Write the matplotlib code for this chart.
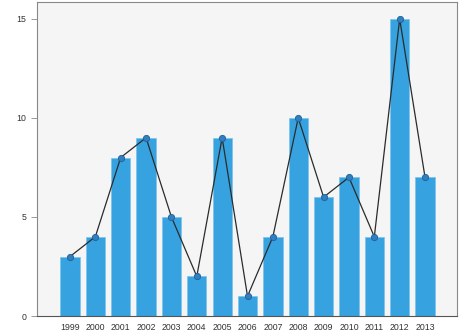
import numpy as np
import matplotlib.pyplot as plt

plt.rcParams['font.family'] = ['Liberation Sans', 'DejaVu Sans']

years = ['1999', '2000', '2001', '2002', '2003', '2004', '2005', '2006',
         '2007', '2008', '2009', '2010', '2011', '2012', '2013']
counts = [3, 4, 8, 9, 5, 2, 9, 1, 4, 10, 6, 7, 4, 15, 7]

fig = plt.figure(figsize=(4.61, 3.35), dpi=100)
ax = fig.add_axes([37/461, 19/335, 420/461, 314/335])
ax.set_facecolor('#f5f5f5')

x = np.arange(len(years))
ax.bar(x, counts, width=0.76, color='#36a3e0', edgecolor='#7cc3ea', linewidth=0.5, zorder=2)
ax.plot(x, counts, color='#2b2b2b', linewidth=0.9, zorder=3,
        marker='o', markersize=4.5, markerfacecolor='#2f7fc1',
        markeredgecolor='#245f95', markeredgewidth=0.6)

ax.set_xlim(-1.3, len(years) - 1 + 1.26)
ax.set_ylim(0, 15.85)
ax.set_xticks(x)
ax.set_xticklabels(years, fontsize=6.3, color='#333333')
ax.set_yticks([0, 5, 10, 15])
ax.tick_params(axis='y', labelsize=6.3, colors='#333333', length=4, width=0.6, color='#888888')
ax.tick_params(axis='x', length=0, pad=5)

for s in ax.spines.values():
    s.set_color('#888888')
    s.set_linewidth(0.8)
ax.spines['bottom'].set_color('#555555')

fig.savefig('out.png', dpi=100)
